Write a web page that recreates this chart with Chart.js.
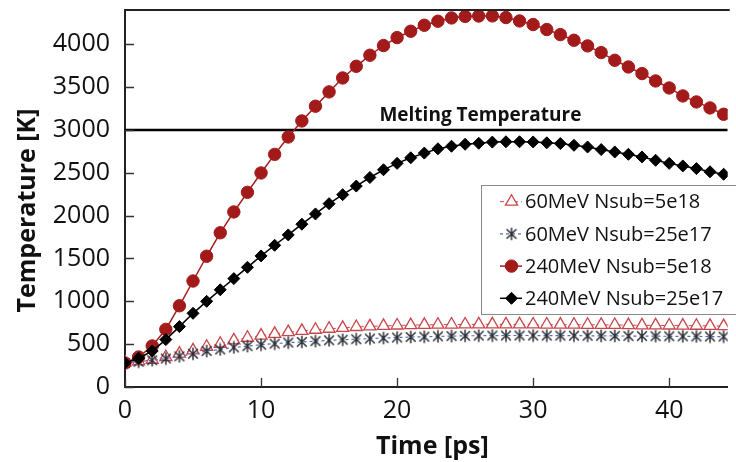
<!DOCTYPE html>
<html><head><meta charset="utf-8">
<script src="https://cdn.jsdelivr.net/npm/chart.js@4.4.1/dist/chart.umd.min.js"></script>
<style>html,body{margin:0;padding:0;background:#fff;}#wrap{width:736px;height:462px;position:relative;overflow:hidden}</style>
</head><body><div id="wrap"><canvas id="c" width="736" height="462"></canvas></div>
<script>
// ---- data ----
const timePs = [0,1,2,3,4,5,6,7,8,9,10,11,12,13,14,15,16,17,18,19,20,21,22,23,24,25,26,27,28,29,30,31,32,33,34,35,36,37,38,39,40,41,42,43,44];
const t60MeV_5e18 = [285,300,318,350,390,428,470,505,545,575,600,620,640,655,668,680,690,700,707,713,718,722,725,727,729,730,731,731,731,731,730,729,728,727,726,725,724,722,720,719,718,716,715,713,711];
const t60MeV_25e17 = [280,295,312,332,358,388,420,438,462,477,494,506,518,526,535,545,552,558,565,571,577,583,587,591,594,597,599,600,601,601,601,600,600,599,598,597,596,595,594,593,592,591,590,589,588];
const t240MeV_5e18 = [280,350,479,673,948,1237,1526,1800,2043,2272,2498,2715,2918,3105,3277,3444,3607,3743,3872,3985,4078,4152,4222,4269,4307,4325,4330,4331,4312,4272,4230,4172,4113,4047,3981,3903,3813,3735,3658,3572,3490,3397,3327,3257,3183];
const t240MeV_25e17 = [280,335,420,553,705,860,1000,1135,1265,1397,1530,1654,1775,1900,2020,2140,2245,2345,2445,2535,2610,2675,2730,2780,2810,2833,2845,2858,2862,2862,2860,2850,2841,2821,2801,2771,2743,2716,2685,2646,2610,2580,2549,2512,2483];
const meltingTemp = 3000;
const meltingLabel = 'Melting Temperature';
const meltingLabelAt = [18.7, 3170];
const seriesNames = ['60MeV Nsub=5e18','60MeV Nsub=25e17','240MeV Nsub=5e18','240MeV Nsub=25e17'];
const xTicks = [0,10,20,30,40];
const yTicks = [0,500,1000,1500,2000,2500,3000,3500,4000];
const xMin = 0, xMax = 44.3, yMin = 0, yMax = 4400;
const xTitle = 'Time [ps]';
const yTitle = 'Temperature [K]';

// ---- styles ----
const FONT = "'Open Sans', 'DejaVu Sans', sans-serif";
const RED_DARK = '#a31a1a';
const RED_TRI = '#c8454a';
const BLUE_DASH = '#4a72b8';
const STAR_COL = '#2e2e36';

function makeStar(size, color){
  const c = document.createElement('canvas');
  c.width = size; c.height = size;
  const g = c.getContext('2d');
  g.strokeStyle = color; g.lineWidth = 1.5;
  const m = size/2, r = size/2 - 0.8, d = r*0.78;
  g.beginPath();
  g.moveTo(m, m-r); g.lineTo(m, m+r);
  g.moveTo(m-d, m-d); g.lineTo(m+d, m+d);
  g.moveTo(m+d, m-d); g.lineTo(m-d, m+d);
  g.stroke();
  return c;
}
const starImg = makeStar(14, STAR_COL);

const pts = arr => timePs.map((t,i)=>({x:t, y:arr[i]}));

const styles = [
  {borderColor:RED_TRI, borderWidth:1, borderDash:[4,3], pointStyle:'triangle', pointRadius:7, pointBorderColor:RED_TRI, pointBackgroundColor:'#fff', pointBorderWidth:1.3},
  {borderColor:BLUE_DASH, borderWidth:1.2, borderDash:[3,3], pointStyle:starImg, pointRadius:7, pointBorderColor:STAR_COL, pointBackgroundColor:STAR_COL, pointBorderWidth:1},
  {borderColor:RED_DARK, borderWidth:1.5, borderDash:[], pointStyle:'circle', pointRadius:6.2, pointBorderColor:RED_DARK, pointBackgroundColor:RED_DARK, pointBorderWidth:1},
  {borderColor:'#000', borderWidth:1.5, borderDash:[], pointStyle:'rectRot', pointRadius:6, pointBorderColor:'#000', pointBackgroundColor:'#000', pointBorderWidth:1}
];
const seriesData = [t60MeV_5e18, t60MeV_25e17, t240MeV_5e18, t240MeV_25e17];
const orders = [3,2,1,0];

const datasets = seriesData.map((arr,i)=>Object.assign({
  label: seriesNames[i], data: pts(arr), order: orders[i], tension: 0, fill:false
}, styles[i]));
datasets.push({label:'Melting', data:[{x:xMin,y:meltingTemp},{x:xMax,y:meltingTemp}], borderColor:'#000', borderWidth:2.5, pointRadius:0, order:10});

const deco = {
  id:'deco',
  afterDatasetsDraw(chart){
    const {ctx, scales:{x,y}} = chart;
    ctx.save();
    ctx.fillStyle = '#111';
    ctx.font = "bold 19px " + FONT;
    ctx.textAlign = 'left'; ctx.textBaseline = 'middle';
    ctx.fillText(meltingLabel, x.getPixelForValue(meltingLabelAt[0]), y.getPixelForValue(meltingLabelAt[1]));
    ctx.restore();
  },
  afterDraw(chart){
    const {ctx, chartArea:a, scales:{x,y}} = chart;
    ctx.save();
    // inner tick marks
    ctx.strokeStyle = '#333'; ctx.lineWidth = 1.3;
    ctx.beginPath();
    yTicks.forEach(v=>{const py=Math.round(y.getPixelForValue(v))+0.5; ctx.moveTo(a.left, py); ctx.lineTo(a.left+9, py);});
    xTicks.forEach(v=>{const px=Math.round(x.getPixelForValue(v))+0.5; ctx.moveTo(px, a.bottom); ctx.lineTo(px, a.bottom-9);});
    ctx.stroke();
    // top border
    ctx.strokeStyle = '#222'; ctx.lineWidth = 1.8;
    ctx.beginPath(); ctx.moveTo(a.left, a.top); ctx.lineTo(a.right+2, a.top); ctx.stroke();
    // axis titles
    ctx.fillStyle = '#111';
    ctx.font = "bold 25px " + FONT;
    ctx.textAlign = 'center'; ctx.textBaseline = 'middle';
    ctx.fillText(xTitle, (a.left+a.right)/2 + 6, a.bottom + 60);
    ctx.save();
    ctx.translate(a.left - 97, (a.top+a.bottom)/2 + 12);
    ctx.rotate(-Math.PI/2);
    ctx.fillText(yTitle, 0, 0);
    ctx.restore();
    // legend
    const bx = 481, by = 185, bw = 300, bh = 129;
    ctx.fillStyle = '#fff';
    ctx.fillRect(bx, by, bw, bh);
    ctx.strokeStyle = '#8a8a8a'; ctx.lineWidth = 1;
    ctx.strokeRect(bx+0.5, by+0.5, bw, bh);
    ctx.font = "20px " + FONT;
    ctx.textAlign = 'left'; ctx.textBaseline = 'middle';
    seriesNames.forEach((name,i)=>{
      const ry = by + 16.7 + i*32.2;
      const st = styles[i];
      ctx.save();
      ctx.strokeStyle = st.borderColor; ctx.lineWidth = st.borderWidth;
      ctx.setLineDash(st.borderDash);
      ctx.beginPath(); ctx.moveTo(bx+19, ry); ctx.lineTo(bx+41, ry); ctx.stroke();
      ctx.setLineDash([]);
      ctx.fillStyle = st.pointBackgroundColor; ctx.strokeStyle = st.pointBorderColor; ctx.lineWidth = st.pointBorderWidth;
      Chart.helpers.drawPoint(ctx, {pointStyle: st.pointStyle, radius: st.pointRadius, borderWidth: st.pointBorderWidth, rotation:0}, bx+30.5, ry);
      ctx.restore();
      ctx.fillStyle = '#111';
      ctx.fillText(name, bx + 44, ry + 1);
    });
    ctx.restore();
  }
};

new Chart(document.getElementById('c'), {
  type:'line',
  data:{datasets},
  options:{
    responsive:false, animation:false, devicePixelRatio:1,
    layout:{padding:{top:10,right:0,left:0,bottom:0}},
    plugins:{legend:{display:false}, tooltip:{enabled:false}},
    scales:{
      x:{type:'linear', min:xMin, max:xMax,
        afterBuildTicks: s => { s.ticks = xTicks.map(v=>({value:v})); },
        afterFit: s => { s.height = 75; s.paddingLeft = 0; s.paddingRight = 0; },
        grid:{display:false, drawTicks:false, tickLength:0},
        border:{display:true, color:'#222', width:2},
        ticks:{padding:9, color:'#111', font:{family:FONT, size:25}, maxRotation:0, callback: v => String(v)}
      },
      y:{type:'linear', min:yMin, max:yMax,
        afterBuildTicks: s => { s.ticks = yTicks.map(v=>({value:v})); },
        afterFit: s => { s.width = 125; s.paddingTop = 0; s.paddingBottom = 0; },
        grid:{display:false, drawTicks:false, tickLength:0},
        border:{display:true, color:'#222', width:2},
        ticks:{padding:15, color:'#111', font:{family:FONT, size:25}, callback: v => String(v)}
      }
    }
  },
  plugins:[deco]
});
</script></body></html>
